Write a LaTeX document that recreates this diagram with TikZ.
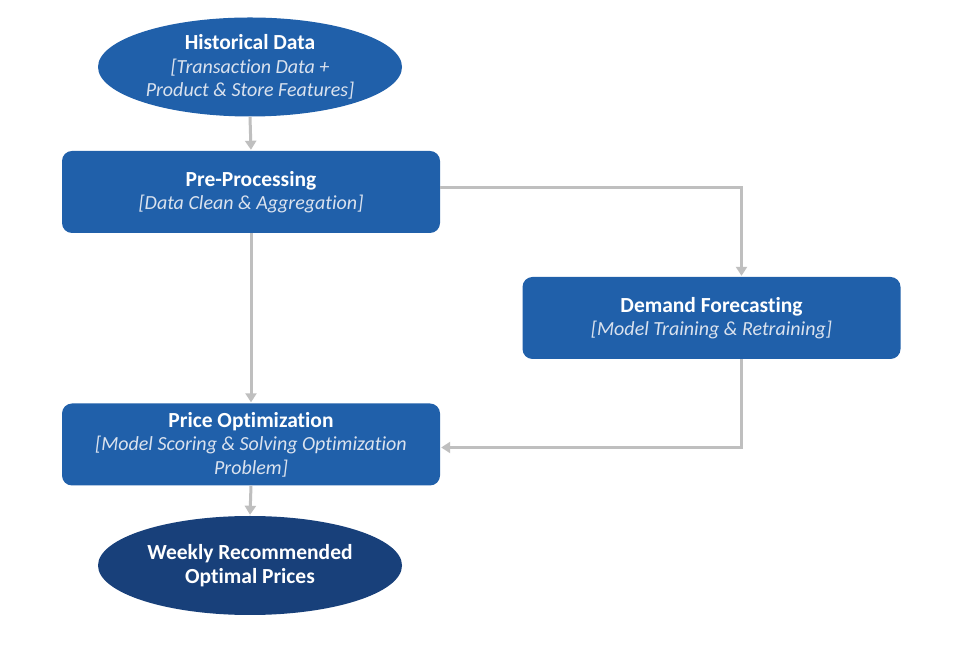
\documentclass[tikz,border=0pt]{standalone}
\usepackage{fontspec}
\setmainfont[Ligatures={NoCommon,TeX}]{Carlito}
\usetikzlibrary{shapes.geometric,arrows.meta,calc}
\definecolor{boxblue}{RGB}{32,96,170}
\definecolor{darkblue}{RGB}{24,64,122}
\definecolor{subtxt}{RGB}{218,226,238}
\definecolor{conn}{RGB}{191,191,191}
\tikzset{
  x=1pt,y=1pt,
  procbox/.style={rectangle,rounded corners=10pt,fill=boxblue,draw=none,minimum width=378pt,minimum height=82pt,inner sep=0pt,align=center,text=white,font=\fontsize{20}{23.5}\selectfont},
  endell/.style={ellipse,draw=none,minimum width=304pt,minimum height=99pt,inner sep=0pt,align=center,text=white,font=\fontsize{20}{23.5}\selectfont},
  arr/.style={draw=conn,line width=3pt,-{Triangle[length=9pt,width=11pt]},shorten >=1pt}
}
\newcommand{\ttl}[1]{{\fontsize{21.5}{23.5}\selectfont\bfseries #1}}
\newcommand{\sub}[1]{{\itshape\color{subtxt}#1}}
\begin{document}
\begin{tikzpicture}
\useasboundingbox[fill=white] (0,0) rectangle (976,663);
\node[endell,fill=boxblue] (hist) at (250,596) {\ttl{Historical Data}\\\sub{[Transaction Data +}\\\sub{Product \& Store Features]}};
\node[procbox] (pre) at (251,471) {\ttl{Pre-Processing}\\\sub{[Data Clean \& Aggregation]}};
\node[procbox] (dem) at (711.5,345) {\ttl{Demand Forecasting}\\\sub{[Model Training \& Retraining]}};
\node[procbox] (opt) at (251,218.5) {\ttl{Price Optimization}\\\sub{[Model Scoring \& Solving Optimization}\\\sub{Problem]}};
\node[endell,fill=darkblue] (week) at (250,97.5) {\ttl{Weekly Recommended}\\\ttl{Optimal Prices}};
\draw[arr] (hist.south) -- (pre.north);
\draw[arr] (pre.south) -- (opt.north);
\draw[arr] (opt.south) -- (week.north);
\draw[arr] ([yshift=4pt]pre.east) -| ([xshift=30pt]dem.north);
\draw[arr] ([xshift=30pt]dem.south) |- ([yshift=-3pt]opt.east);
\end{tikzpicture}
\end{document}
